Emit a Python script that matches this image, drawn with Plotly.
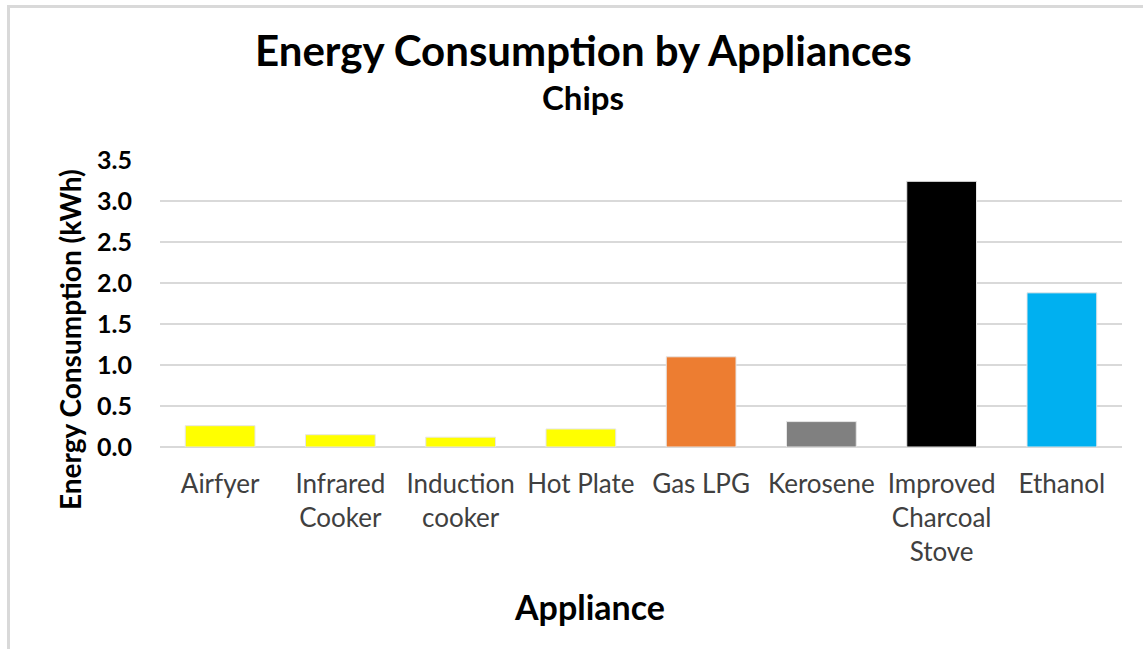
import plotly.graph_objects as go

appliances = ["Airfyer", "Infrared<br>Cooker", "Induction<br>cooker", "Hot Plate",
              "Gas LPG", "Kerosene", "Improved<br>Charcoal<br>Stove", "Ethanol"]
energy_kwh = [0.26, 0.15, 0.12, 0.22, 1.10, 0.31, 3.24, 1.88]
bar_colors = ["#FFFF00", "#FFFF00", "#FFFF00", "#FFFF00",
              "#ED7D31", "#808080", "#000000", "#00B0F0"]
y_ticks = [0.0, 0.5, 1.0, 1.5, 2.0, 2.5, 3.0, 3.5]

FONT = "Lato, Carlito, Calibri, sans-serif"

W, H = 1143, 649
L, R, T, B = 160, 21, 160, 202
pw, ph = W - L - R, H - T - B


def px_to_paper(x, y):
    """pixel position -> paper coords"""
    return (x - L) / pw, (H - B - y) / ph


fig = go.Figure(go.Bar(
    x=appliances,
    y=energy_kwh,
    marker=dict(color=bar_colors, line=dict(color="#e6e6e6", width=1)),
))

fig.update_layout(
    width=W, height=H,
    margin=dict(l=L, r=R, t=T, b=B),
    paper_bgcolor="white",
    plot_bgcolor="white",
    bargap=0.42,
    showlegend=False,
    font=dict(family=FONT, color="#404040"),
    xaxis=dict(
        tickfont=dict(size=26, color="#404040"),
        showline=False,
        showgrid=False,
        ticks="outside",
        ticklen=14,
        tickcolor="rgba(0,0,0,0)",
    ),
    yaxis=dict(
        range=[0, 3.5],
        tickvals=y_ticks,
        tickformat=".1f",
        tickfont=dict(size=25, color="black", family=FONT, weight="bold"),
        showgrid=True,
        gridcolor="#d9d9d9",
        gridwidth=2,
        zeroline=True,
        zerolinecolor="#d9d9d9",
        zerolinewidth=2,
        ticks="outside",
        ticklen=22,
        tickcolor="rgba(0,0,0,0)",
    ),
)

# titles and axis titles placed by pixel
texts = [
    ("<b>Energy Consumption by Appliances</b>", 583, 50, 42, 0),
    ("<b>Chips</b>", 583, 97, 33, 0),
    ("<b>Appliance</b>", 589, 606, 34, 0),
    ("<b>Energy Consumption (kWh)</b>", 70, 340, 28, -90),
]
for txt, px, py, size, angle in texts:
    ax_, ay_ = px_to_paper(px, py)
    fig.add_annotation(x=ax_, y=ay_, xref="paper", yref="paper", showarrow=False,
                       xanchor="center", yanchor="middle",
                       text=txt, textangle=angle,
                       font=dict(size=size, color="black", family=FONT))

# chart-area border (only top and left edges visible in the frame)
x0, y1 = px_to_paper(8.5, 6.5)
x1, y0 = px_to_paper(1160, 670)
fig.add_shape(type="rect", xref="paper", yref="paper", x0=x0, x1=x1, y0=y0, y1=y1,
              line=dict(color="#d9d9d9", width=3), layer="below")

fig.write_html("out.html", config={"displayModeBar": False},
               post_script="document.body.style.margin='0';")
